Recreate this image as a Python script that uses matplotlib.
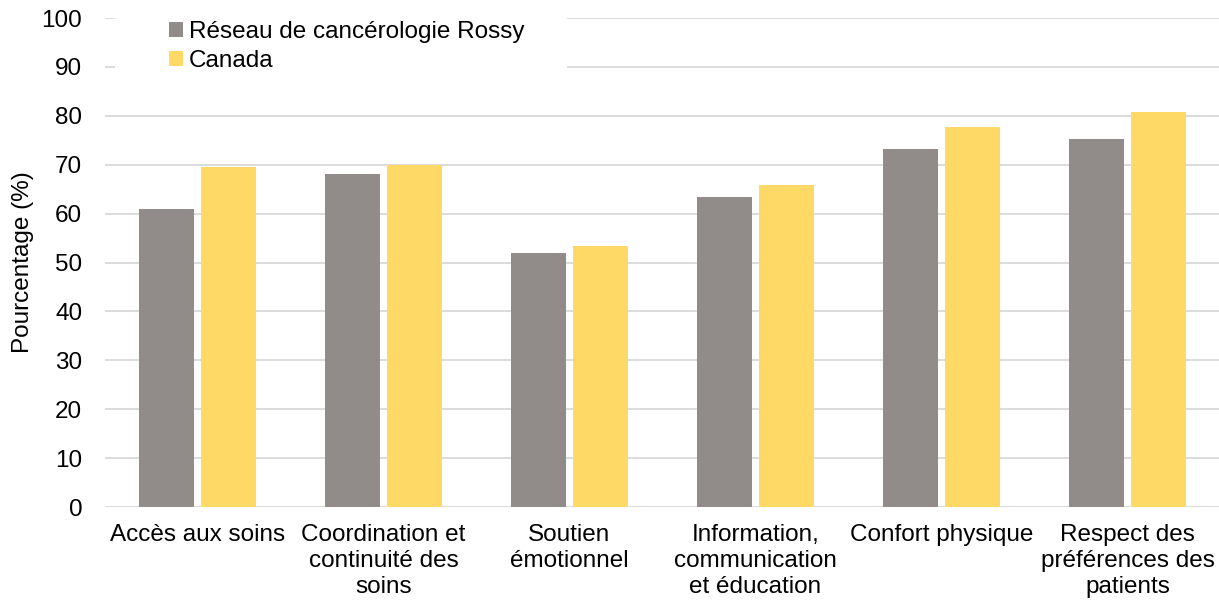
import matplotlib
matplotlib.use("Agg")
import matplotlib.pyplot as plt
from matplotlib.patches import Rectangle
import numpy as np

categories = ["Accès aux soins", "Coordination et\ncontinuité des\nsoins", "Soutien\némotionnel",
              "Information,\ncommunication\net éducation", "Confort physique",
              "Respect des\npréférences des\npatients"]
rossy = [60.9, 68.2, 51.9, 63.3, 73.2, 75.3]
canada = [69.5, 69.9, 53.4, 65.9, 77.8, 80.8]
series_names = ["Réseau de cancérologie Rossy", "Canada"]
yticks = list(range(0, 101, 10))

plt.rcParams['font.family'] = ['Liberation Sans', 'DejaVu Sans']
FS = 17.5

W, H = 1219, 602
fig = plt.figure(figsize=(W/100, H/100), dpi=100)
ax = fig.add_axes([104.5/W, 1 - 507/H, 1116/W, 489/H])

x = np.arange(len(categories))
w = 0.296
gap = 0.036
ax.bar(x - (w + gap)/2, rossy, w, color="#918B8A", label=series_names[0], zorder=3)
ax.bar(x + (w + gap)/2, canada, w, color="#FFD966", label=series_names[1], zorder=3)

ax.set_xlim(-0.5, len(categories) - 0.5)
ax.set_ylim(0, 100)
ax.set_yticks(yticks)
ax.yaxis.grid(True, color="#D9D9D9", linewidth=1.3, zorder=0)
ax.set_axisbelow(True)
for s in ["top", "right", "left", "bottom"]:
    ax.spines[s].set_visible(False)
ax.tick_params(axis="both", length=0, labelsize=FS, colors="black")
ax.tick_params(axis="y", pad=16)
ax.tick_params(axis="x", pad=12)
ax.set_xticks(x)
ax.set_xticklabels(categories, linespacing=1.25)
ax.set_ylabel("Pourcentage (%)", fontsize=FS)
ax.yaxis.set_label_coords((34 - 104.5) / 1116, 0.5)

# white background area behind the legend (hides gridlines as in the reference)
ax.add_patch(Rectangle((115/W, 1 - 76/H), (567 - 115)/W, 68/H, transform=fig.transFigure,
                       facecolor="white", edgecolor="none", zorder=2, clip_on=False))

leg = ax.legend(loc="upper left", bbox_to_anchor=(162/W, 1 - 14/H),
                bbox_transform=fig.transFigure, frameon=False, fontsize=FS,
                handlelength=0.55, handleheight=0.55, handletextpad=0.25, labelspacing=0.28,
                borderpad=0.3, borderaxespad=0)
leg.set_zorder(6)

fig.savefig("out.png", dpi=100)
